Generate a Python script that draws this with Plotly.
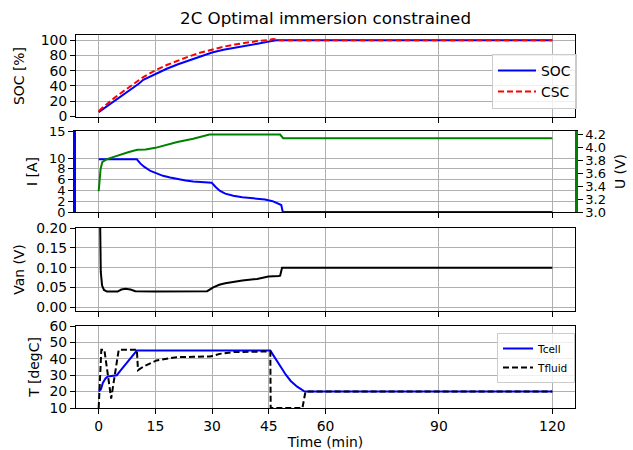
import plotly.graph_objects as go

# ---------------- data ----------------
soc_t = [0, 2, 4, 6, 8, 10.5, 11.8, 15, 18, 21, 24, 27, 30, 33, 36, 39, 42, 45, 47, 120]
soc = [5.5, 12.5, 19.5, 26.5, 33.5, 42.5, 48, 56, 62.5, 68.5, 74, 79.5, 84, 87.5, 90.5, 93, 95.5, 98.3, 100, 100]

csc_t = [0, 2, 4, 6, 8, 10.5, 11.8, 15, 18, 21, 24, 27, 30, 33, 36, 39, 42, 45, 46.2, 47.5, 120]
csc = [7, 15.5, 23.5, 31, 38.5, 47, 51.5, 60.5, 67.5, 73.5, 79, 84, 88, 91.5, 94.5, 97, 99, 100.5, 101.8, 100, 100]

i_t = [0, 10.1, 11, 12, 13.7, 15, 17, 18.9, 21, 23, 25, 27, 28.6, 29.9, 31, 32.1, 33.5, 35.6,
       38, 41.7, 44, 46, 47.5, 48.3, 48.7, 120]
i_a = [9.75, 9.75, 9.0, 8.4, 7.6, 7.2, 6.7, 6.4, 6.05, 5.85, 5.66, 5.55, 5.47, 5.4, 4.6, 3.9,
       3.4, 3.0, 2.75, 2.5, 2.3, 2.0, 1.6, 1.3, 0, 0]

u_t = [0, 0.5, 0.95, 2, 4, 6, 8, 10.2, 12.4, 15, 18, 20.8, 25, 29.3, 48, 48.8, 120]
u_v = [3.32, 3.66, 3.77, 3.81, 3.85, 3.89, 3.925, 3.96, 3.965, 3.99, 4.035, 4.08, 4.13, 4.195, 4.195, 4.14, 4.14]

van_t = [0, 0.3, 0.55, 0.9, 1.4, 2.2, 5.0, 6.0, 7.1, 8.4, 9.7, 15, 20, 28.7, 30.3, 31.9, 33.5,
         35.6, 38, 41.9, 44.9, 47.6, 48.0, 48.5, 120]
van = [0.50, 0.20, 0.09, 0.055, 0.044, 0.040, 0.040, 0.045, 0.047, 0.045, 0.041, 0.040, 0.040,
       0.041, 0.0507, 0.057, 0.061, 0.0646, 0.068, 0.0716, 0.0777, 0.079, 0.080, 0.0996, 0.0996]

tc_t = [0, 0.6, 1.1, 1.8, 2.4, 3.5, 4.8, 5.8, 6.8, 8, 9, 10.1, 45.4, 46.5, 48.1, 49.5, 50.8,
        52.5, 54.3, 55, 120]
tc = [20, 21.5, 25.3, 28, 29.2, 29.6, 30, 33, 35.8, 39.5, 42.5, 45, 45, 41, 34.8, 30.3, 26.5,
      23, 20.3, 20, 20]

tf_t = [0, 0.3, 0.7, 1.5, 3.3, 5.3, 10.1, 10.4, 12, 15.3, 20.6, 25, 29.5, 32, 35.7, 40, 45.4,
        45.5, 53.9, 54.7, 120]
tf = [10, 25, 45.5, 45.5, 15.8, 45.5, 45.5, 33.1, 35.5, 39, 41, 41.2, 41.4, 43, 44.1, 44.3,
      44.5, 10, 10, 20, 20]

x_ticks = [0, 15, 30, 45, 60, 90, 120]
i_ticks = [0, 2, 4, 6, 8, 10, 15]

# ---------------- figure ----------------
FONT = "DejaVu Sans"
TICK = 13.9
GRID = "#b0b0b0"

fig = go.Figure()
fig.add_trace(go.Scatter(x=soc_t, y=soc, mode="lines", name="SOC",
                         line=dict(color="#0000ff", width=2), xaxis="x", yaxis="y", legend="legend"))
fig.add_trace(go.Scatter(x=csc_t, y=csc, mode="lines", name="CSC",
                         line=dict(color="#ff0000", width=2, dash="6px,3px"), xaxis="x", yaxis="y", legend="legend"))

fig.add_trace(go.Scatter(x=i_t, y=i_a, mode="lines", name="I", showlegend=False,
                         line=dict(color="#0000ff", width=2), xaxis="x2", yaxis="y2"))
fig.add_trace(go.Scatter(x=u_t, y=u_v, mode="lines", name="U", showlegend=False,
                         line=dict(color="#008000", width=2), xaxis="x2", yaxis="y5"))

fig.add_trace(go.Scatter(x=van_t, y=van, mode="lines", name="Van", showlegend=False,
                         line=dict(color="#000000", width=2), xaxis="x3", yaxis="y3"))

fig.add_trace(go.Scatter(x=tc_t, y=tc, mode="lines", name="Tcell",
                         line=dict(color="#0000ff", width=2), xaxis="x4", yaxis="y4", legend="legend2"))
fig.add_trace(go.Scatter(x=tf_t, y=tf, mode="lines", name="Tfluid",
                         line=dict(color="#000000", width=2, dash="6px,3px"), xaxis="x4", yaxis="y4", legend="legend2"))

H0 = 373.0
def dom(top_px, bot_px):
    return [(408 - bot_px) / H0, (408 - top_px) / H0]

def xax(anchor, labels):
    return dict(domain=[0, 1], anchor=anchor, range=[-6, 126], tickvals=x_ticks,
                showticklabels=labels, ticks="outside", ticklen=5, tickwidth=1, tickcolor="black",
                showline=True, linecolor="black", linewidth=1, mirror=True, automargin=False,
                showgrid=True, gridcolor=GRID, gridwidth=1, zeroline=False,
                tickfont=dict(size=TICK, color="black"), matches="x4" if anchor != "y4" else None)

def yax(domain, rng, title, standoff=6, **kw):
    d = dict(domain=domain, range=rng, ticks="outside", ticklen=5, tickwidth=1, tickcolor="black",
             showline=True, linecolor="black", linewidth=1, mirror=True, automargin=False,
             showgrid=True, gridcolor=GRID, gridwidth=1, zeroline=False,
             tickfont=dict(size=TICK, color="black"),
             title=dict(text=title, font=dict(size=TICK, color="black"), standoff=standoff))
    d.update(kw)
    return d

fig.update_layout(
    width=633, height=450,
    margin=dict(l=76, r=58, t=35, b=42),
    paper_bgcolor="white", plot_bgcolor="white",
    font=dict(family=FONT, color="black"),
    title=dict(text="2C Optimal immersion constrained", x=(325.5 / 633), xanchor="center",
               y=1 - 18 / 450, yanchor="middle", font=dict(size=16.7, color="black")),
    xaxis=xax("y", False),
    xaxis2=xax("y2", False),
    xaxis3=xax("y3", False),
    xaxis4=dict(xax("y4", True),
                title=dict(text="Time (min)", font=dict(size=TICK, color="black"), standoff=11)),
    yaxis=yax(dom(35, 117), [-1, 107], "SOC [%]", standoff=12, tickvals=[0, 20, 40, 60, 80, 100]),
    yaxis2=yax(dom(131, 212), [0, 15], "I [A]", standoff=9, tickvals=i_ticks, mirror=False,
               linecolor="#0000ff", linewidth=2.5, tickfont=dict(size=13, color="black")),
    yaxis5=dict(overlaying="y2", side="right", anchor="x2", range=[3.0, 4.25],
                tickvals=[3.0, 3.2, 3.4, 3.6, 3.8, 4.0, 4.2], tickformat=".1f", automargin=False,
                ticks="outside", ticklen=5, tickwidth=1, tickcolor="black",
                showline=True, linecolor="#008000", linewidth=2.5, showgrid=False, zeroline=False,
                tickfont=dict(size=13, color="black"),
                title=dict(text="U (V)", font=dict(size=TICK, color="black"), standoff=11)),
    yaxis3=yax(dom(228, 311), [-0.009, 0.2], "Van (V)", standoff=8,
               tickvals=[0, 0.05, 0.10, 0.15, 0.20], tickformat=".2f"),
    yaxis4=yax(dom(326, 408), [10, 60], "T [degC]", standoff=6, tickvals=[10, 20, 30, 40, 50, 60]),
    legend=dict(x=1.004, xanchor="right", y=(408 - 109) / H0, yanchor="bottom",
                bgcolor="rgba(255,255,255,0.8)", bordercolor="#cccccc", borderwidth=1,
                itemwidth=38, font=dict(size=TICK, color="black"), tracegroupgap=0),
    legend2=dict(x=1.0, xanchor="right", y=(408 - 333) / H0, yanchor="top",
                 bgcolor="rgba(255,255,255,0.8)", bordercolor="#cccccc", borderwidth=1,
                 font=dict(size=10.5, color="black"), tracegroupgap=0),
)

fig.write_html("out.html")
